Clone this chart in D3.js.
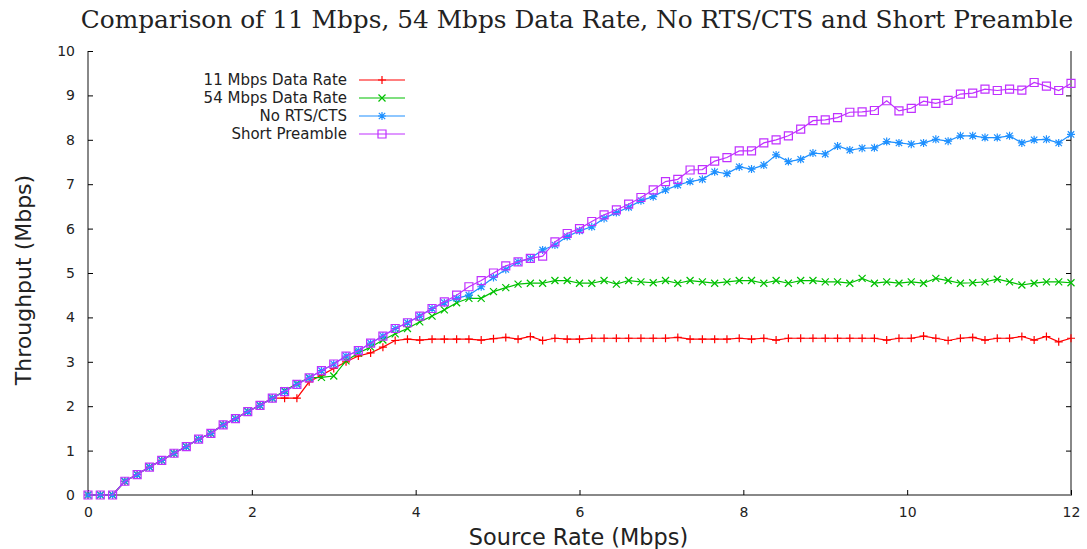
<!DOCTYPE html>
<html>
<head>
<meta charset="utf-8">
<script src="https://cdn.jsdelivr.net/npm/d3@7"></script>
<style>
  body { margin: 0; background: #fff; }
  text { font-family: "DejaVu Sans", sans-serif; fill: #222; }
</style>
</head>
<body>
<div id="graph"></div>
<script>
// source rate (Mbps), one value per sample
const sourceRate = [0,0.15,0.3,0.45,0.6,0.75,0.9,1.05,1.2,1.35,1.5,1.65,1.8,1.95,2.1,2.25,2.4,2.55,2.7,2.85,
  3,3.15,3.3,3.45,3.6,3.75,3.9,4.05,4.2,4.35,4.5,4.65,4.8,4.95,5.1,5.25,5.4,5.55,5.7,5.85,
  6,6.15,6.3,6.45,6.6,6.75,6.9,7.05,7.2,7.35,7.5,7.65,7.8,7.95,8.1,8.25,8.4,8.55,8.7,8.85,
  9,9.15,9.3,9.45,9.6,9.75,9.9,10.05,10.2,10.35,10.5,10.65,10.8,10.95,11.1,11.25,11.4,11.55,11.7,11.85,12];

// throughput (Mbps) for each series
const rate11 = [0,0,0,0.31,0.46,0.63,0.78,0.94,1.09,1.26,
  1.39,1.58,1.72,1.88,2.02,2.18,2.18,2.18,2.55,2.70,
  2.85,3.0,3.13,3.2,3.33,3.48,3.51,3.49,3.51,3.51,
  3.51,3.51,3.49,3.52,3.55,3.51,3.57,3.48,3.53,3.51,
  3.51,3.53,3.53,3.53,3.53,3.53,3.53,3.53,3.55,3.51,
  3.51,3.51,3.51,3.53,3.51,3.53,3.49,3.53,3.53,3.53,
  3.53,3.53,3.53,3.53,3.53,3.49,3.53,3.53,3.58,3.53,
  3.48,3.53,3.55,3.49,3.53,3.53,3.57,3.49,3.57,3.45,3.53];
const rate54 = [0,0,0,0.31,0.46,0.63,0.78,0.94,1.09,1.26,
  1.39,1.58,1.72,1.88,2.02,2.18,2.35,2.51,2.64,2.65,
  2.68,3.02,3.2,3.33,3.49,3.63,3.75,3.9,4.03,4.17,
  4.33,4.43,4.43,4.58,4.67,4.75,4.77,4.77,4.83,4.83,
  4.77,4.77,4.83,4.75,4.83,4.80,4.78,4.83,4.77,4.83,
  4.80,4.77,4.80,4.83,4.83,4.77,4.83,4.77,4.83,4.83,
  4.80,4.80,4.77,4.88,4.77,4.80,4.77,4.80,4.77,4.88,
  4.83,4.77,4.78,4.80,4.86,4.80,4.73,4.77,4.80,4.80,4.78];
const noRts = [0,0,0,0.31,0.46,0.63,0.78,0.94,1.09,1.26,
  1.39,1.58,1.72,1.88,2.02,2.18,2.33,2.49,2.64,2.80,
  2.95,3.13,3.25,3.42,3.58,3.75,3.88,4.03,4.2,4.33,
  4.43,4.5,4.69,4.9,5.08,5.25,5.33,5.52,5.63,5.82,
  5.95,6.04,6.23,6.36,6.48,6.63,6.72,6.87,6.98,7.06,
  7.11,7.28,7.24,7.39,7.34,7.43,7.66,7.51,7.56,7.7,
  7.68,7.86,7.77,7.81,7.82,7.96,7.93,7.9,7.93,8.01,
  7.97,8.09,8.09,8.05,8.05,8.09,7.93,8.0,8.01,7.93,8.12];
const shortPre = [0,0,0,0.31,0.46,0.63,0.78,0.94,1.09,1.26,
  1.39,1.58,1.72,1.88,2.02,2.18,2.33,2.49,2.64,2.80,
  2.95,3.13,3.25,3.42,3.58,3.75,3.88,4.03,4.2,4.35,
  4.5,4.69,4.83,5.0,5.16,5.25,5.33,5.38,5.7,5.89,
  6.0,6.16,6.31,6.42,6.55,6.7,6.87,7.06,7.11,7.32,
  7.33,7.52,7.6,7.75,7.75,7.93,8.0,8.09,8.24,8.43,
  8.45,8.5,8.62,8.63,8.66,8.88,8.65,8.71,8.87,8.82,
  8.89,9.03,9.05,9.14,9.11,9.14,9.12,9.29,9.21,9.11,9.27];

const seriesNames = ["11 Mbps Data Rate", "54 Mbps Data Rate", "No RTS/CTS", "Short Preamble"];
const xTicks = [0, 2, 4, 6, 8, 10, 12];
const yTicks = [0, 1, 2, 3, 4, 5, 6, 7, 8, 9, 10];

// dimensions
const W = 1087, H = 549;
const margin = {top: 51, right: 16, bottom: 54, left: 88};
const width = W - margin.left - margin.right;
const height = H - margin.top - margin.bottom;

const svg = d3.select("#graph").append("svg")
  .attr("width", W).attr("height", H);

const x = d3.scaleLinear().domain([0, 12]).range([0, width]);
const y = d3.scaleLinear().domain([0, 10]).range([height, 0]);

const g = svg.append("g").attr("transform", "translate(" + margin.left + "," + margin.top + ")");

// frame (left, bottom, right)
g.append("path")
  .attr("d", "M0,0V" + height + "H" + width + "V0")
  .attr("fill", "none").attr("stroke", "#888").attr("stroke-width", 2);

// x axis, ticks pointing inward
const xAxis = g.append("g").attr("transform", "translate(0," + height + ")")
  .call(d3.axisBottom(x).tickValues(xTicks).tickSizeInner(-5).tickSizeOuter(0).tickPadding(12));
xAxis.select(".domain").remove();
xAxis.selectAll("text").attr("font-size", 14).attr("font-family", "DejaVu Sans");

// y axis
const yAxis = g.append("g")
  .call(d3.axisLeft(y).tickValues(yTicks).tickSizeInner(-5).tickSizeOuter(0).tickPadding(13));
yAxis.select(".domain").remove();
yAxis.selectAll("text").attr("font-size", 14).attr("font-family", "DejaVu Sans");

// mirrored ticks on the right border
const yRight = g.append("g").attr("transform", "translate(" + width + ",0)")
  .call(d3.axisRight(y).tickValues(yTicks.slice(1, -1)).tickSizeInner(-5).tickSizeOuter(0).tickFormat(""));
yRight.select(".domain").remove();

// titles
svg.append("text")
  .attr("x", 577).attr("y", 28).attr("text-anchor", "middle")
  .style("font-family", "'DejaVu Serif', serif").attr("font-size", 24.8)
  .text("Comparison of 11 Mbps, 54 Mbps Data Rate, No RTS/CTS and Short Preamble");
svg.append("text")
  .attr("x", margin.left + width / 2 - 1).attr("y", 545).attr("text-anchor", "middle")
  .attr("font-size", 22.4)
  .text("Source Rate (Mbps)");
svg.append("text")
  .attr("transform", "translate(31," + (margin.top + height / 2 + 7) + ") rotate(-90)")
  .attr("text-anchor", "middle").attr("font-size", 22)
  .text("Throughput (Mbps)");

// marker shapes
function plus(s) { return "M" + (-s) + ",0H" + s + "M0," + (-s) + "V" + s; }
function cross(s) { return "M" + (-s) + "," + (-s) + "L" + s + "," + s + "M" + (-s) + "," + s + "L" + s + "," + (-s); }
function star(s) { return plus(s) + cross(s * 0.8); }
function square(s) { return "M" + (-s) + "," + (-s) + "H" + s + "V" + s + "H" + (-s) + "Z"; }

const series = [
  {name: seriesNames[0], values: rate11, color: "#ff0000", marker: plus(4)},
  {name: seriesNames[1], values: rate54, color: "#00c000", marker: cross(3.5)},
  {name: seriesNames[2], values: noRts, color: "#1e90ff", marker: star(4)},
  {name: seriesNames[3], values: shortPre, color: "#c030ff", marker: square(4)}
];

const line = d3.line().x(d => x(d[0])).y(d => y(d[1]));

series.forEach(function(s) {
  const pts = sourceRate.map((r, i) => [r, s.values[i]]);
  g.append("path")
    .attr("fill", "none").attr("stroke", s.color).attr("stroke-width", 1.2)
    .attr("d", line(pts));
  g.selectAll(null).data(pts).enter().append("path")
    .attr("transform", d => "translate(" + x(d[0]) + "," + y(d[1]) + ")")
    .attr("d", s.marker)
    .attr("fill", "none").attr("stroke", s.color).attr("stroke-width", 1.2);
});

// legend
const legend = svg.append("g");
series.forEach(function(s, i) {
  const ly = 80 + i * 18;
  legend.append("text")
    .attr("x", 347).attr("y", ly).attr("dy", "0.35em")
    .attr("text-anchor", "end").attr("font-size", 15)
    .text(s.name);
  legend.append("line")
    .attr("x1", 359).attr("x2", 405).attr("y1", ly).attr("y2", ly)
    .attr("stroke", s.color).attr("stroke-width", 1.2);
  legend.append("path")
    .attr("transform", "translate(382," + ly + ")")
    .attr("d", s.marker)
    .attr("fill", "none").attr("stroke", s.color).attr("stroke-width", 1.2);
});
</script>
</body>
</html>
